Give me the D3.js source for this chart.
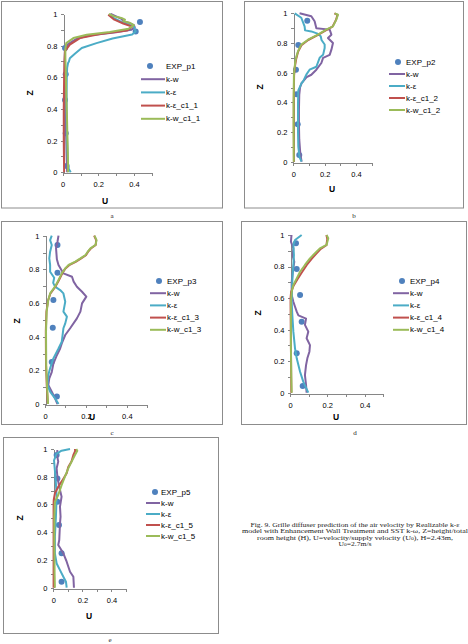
<!DOCTYPE html>
<html lang="en">
<head>
<meta charset="UTF-8">
<title>Fig. 9 - Grille diffuser velocity profiles</title>
<script src="https://cdn.jsdelivr.net/npm/d3@7"></script>
<style>
  html, body { margin: 0; padding: 0; background: #fff; }
  svg { display: block; }
  .axis path, .axis line { stroke: #868686; shape-rendering: crispEdges; }
  .axis text { font-family: "Liberation Sans", Arial, sans-serif; font-size: 7.5px; fill: #000; }
  .axis-title { font-family: "Liberation Sans", Arial, sans-serif; font-size: 8.5px; font-weight: bold; fill: #000; }
  .legend-text { font-family: "Liberation Sans", Arial, sans-serif; font-size: 8px; fill: #000; }
  .serif { font-family: "Liberation Serif", "Times New Roman", serif; font-weight: normal; fill: #222; }
</style>
</head>
<body>
<svg id="fig" width="468" height="644"></svg>
<script>
// ---- data: [U, Z] pairs ----
// shared axes
const uTicks = [0, 0.1, 0.2, 0.3, 0.4, 0.5];
const zTicks = [0, 0.1, 0.2, 0.3, 0.4, 0.5, 0.6, 0.7, 0.8, 0.9, 1];

// panel a (p1)
const p1Exp = [[0.434,0.95],[0.41,0.89],[0.013,0.785],[0.017,0.62],[0.013,0.457],[0.017,0.246],[0.022,0.04]];
const p1Kw = [[0.025,0],[0.022,0.1],[0.02,0.2],[0.018,0.3],[0.016,0.4],[0.014,0.5],[0.012,0.6],[0.011,0.7],[0.012,0.77],[0.03,0.81],[0.08,0.845],[0.17,0.868],[0.3,0.885],[0.385,0.9],[0.405,0.915],[0.4,0.93],[0.37,0.945],[0.34,0.955],[0.33,0.97],[0.3,0.985],[0.27,1]];
const p1Ke = [[0.045,0],[0.035,0.02],[0.03,0.04],[0.028,0.1],[0.025,0.2],[0.023,0.3],[0.022,0.4],[0.022,0.5],[0.023,0.6],[0.025,0.66],[0.03,0.69],[0.035,0.7],[0.04,0.72],[0.07,0.75],[0.107,0.785],[0.19,0.816],[0.28,0.845],[0.39,0.87],[0.41,0.89],[0.4,0.92],[0.33,0.95],[0.285,0.975],[0.265,1]];
const p1KeC1 = [[0.008,0],[0.007,0.1],[0.006,0.2],[0.006,0.3],[0.006,0.4],[0.007,0.5],[0.008,0.6],[0.01,0.7],[0.013,0.765],[0.04,0.806],[0.097,0.848],[0.21,0.873],[0.36,0.895],[0.39,0.92],[0.34,0.94],[0.29,0.964],[0.256,0.996]];
const p1KwC1 = [[0.03,0],[0.03,0.05],[0.028,0.15],[0.026,0.25],[0.024,0.35],[0.021,0.45],[0.019,0.55],[0.017,0.65],[0.015,0.72],[0.015,0.78],[0.02,0.816],[0.06,0.848],[0.135,0.869],[0.265,0.886],[0.37,0.907],[0.4,0.93],[0.375,0.945],[0.34,0.955],[0.35,0.965],[0.33,0.975],[0.29,0.985],[0.26,1]];

// panel b (p2)
const p2Exp = [[0.089,0.95],[0.032,0.787],[0.017,0.62],[0.021,0.454],[0.028,0.252],[0.038,0.045]];
const p2Kw = [[0.053,0],[0.045,0.05],[0.038,0.15],[0.036,0.25],[0.036,0.35],[0.038,0.45],[0.043,0.5],[0.053,0.53],[0.085,0.57],[0.115,0.586],[0.147,0.62],[0.179,0.665],[0.19,0.7],[0.232,0.72],[0.243,0.755],[0.253,0.8],[0.221,0.834],[0.243,0.856],[0.232,0.89],[0.147,0.9],[0.136,0.946],[0.115,0.98],[0.04,1]];
const p2Ke = [[0.053,0],[0.04,0.03],[0.032,0.1],[0.03,0.2],[0.03,0.3],[0.03,0.4],[0.032,0.48],[0.053,0.53],[0.062,0.54],[0.083,0.587],[0.104,0.62],[0.147,0.64],[0.168,0.7],[0.19,0.72],[0.2,0.766],[0.2,0.79],[0.18,0.82],[0.175,0.845],[0.15,0.865],[0.115,0.878],[0.075,0.885],[0.072,0.912],[0.051,0.97],[0.009,1]];
const p2KeC1 = [[0.004,0],[0.003,0.2],[0.003,0.4],[0.005,0.58],[0.01,0.64],[0.018,0.69],[0.03,0.74],[0.052,0.785],[0.095,0.82],[0.155,0.853],[0.21,0.887],[0.25,0.91],[0.272,0.955],[0.282,0.99],[0.262,1]];
const p2KwC1 = [[0.003,0],[0.002,0.2],[0.002,0.4],[0.004,0.586],[0.008,0.63],[0.013,0.676],[0.02,0.71],[0.03,0.744],[0.051,0.789],[0.094,0.822],[0.157,0.856],[0.21,0.89],[0.253,0.912],[0.274,0.957],[0.285,0.99],[0.264,1]];

// panel c (p3)
const p3Exp = [[0.061,0.945],[0.061,0.78],[0.041,0.618],[0.038,0.453],[0.033,0.25],[0.058,0.044]];
const p3Kw = [[0.061,0],[0.049,0.034],[0.033,0.073],[0.016,0.113],[0.021,0.152],[0.033,0.19],[0.041,0.24],[0.058,0.29],[0.074,0.33],[0.082,0.36],[0.099,0.41],[0.123,0.45],[0.156,0.509],[0.173,0.549],[0.181,0.598],[0.202,0.638],[0.181,0.667],[0.156,0.697],[0.14,0.727],[0.132,0.756],[0.09,0.776],[0.066,0.826],[0.058,0.86],[0.054,0.925],[0.061,0.964],[0.066,1]];
const p3Ke = [[0.066,0],[0.049,0.034],[0.025,0.073],[0.012,0.113],[0.016,0.172],[0.025,0.212],[0.041,0.271],[0.066,0.33],[0.082,0.37],[0.09,0.45],[0.099,0.479],[0.107,0.519],[0.09,0.549],[0.099,0.608],[0.09,0.657],[0.074,0.677],[0.049,0.697],[0.04,0.72],[0.045,0.75],[0.025,0.786],[0.025,0.826],[0.021,0.865],[0.025,0.905],[0.033,0.945],[0.025,0.974],[0.033,1]];
const p3KeC1 = [[0.014,0],[0.009,0.1],[0.005,0.23],[0.004,0.43],[0.007,0.549],[0.015,0.615],[0.026,0.655],[0.05,0.695],[0.068,0.735],[0.084,0.775],[0.1,0.805],[0.118,0.825],[0.15,0.845],[0.175,0.864],[0.2,0.884],[0.21,0.904],[0.224,0.924],[0.248,0.945],[0.25,0.974],[0.24,1]];
const p3KwC1 = [[0.015,0],[0.01,0.1],[0.006,0.23],[0.005,0.43],[0.008,0.549],[0.016,0.618],[0.025,0.657],[0.049,0.697],[0.066,0.737],[0.082,0.776],[0.099,0.806],[0.115,0.826],[0.148,0.846],[0.173,0.865],[0.198,0.885],[0.209,0.905],[0.222,0.925],[0.247,0.945],[0.252,0.974],[0.242,1]];

// panel d (p4)
const p4Exp = [[0.032,0.947],[0.036,0.784],[0.054,0.619],[0.0625,0.45],[0.036,0.25],[0.068,0.042]];
const p4Kw = [[0.089,0],[0.086,0.049],[0.08,0.112],[0.086,0.175],[0.093,0.218],[0.104,0.26],[0.107,0.302],[0.089,0.345],[0.098,0.387],[0.08,0.43],[0.086,0.47],[0.045,0.49],[0.036,0.514],[0.027,0.545],[0.018,0.577],[0.009,0.62],[0.009,0.7],[0.014,0.76],[0.023,0.83],[0.014,0.87],[0.018,0.915],[0.005,0.958],[0.008,1]];
const p4Ke = [[0.098,0],[0.071,0.07],[0.054,0.133],[0.036,0.218],[0.027,0.28],[0.018,0.387],[0.0125,0.49],[0.009,0.577],[0.011,0.662],[0.014,0.746],[0.018,0.81],[0.021,0.873],[0.018,0.937],[0.027,0.968],[0.0625,1]];
const p4KeC1 = [[0.007,0],[0.005,0.3],[0.003,0.6],[0.006,0.64],[0.02,0.68],[0.04,0.72],[0.065,0.765],[0.09,0.81],[0.117,0.85],[0.14,0.88],[0.165,0.912],[0.195,0.935],[0.2,0.975],[0.195,1]];
const p4KwC1 = [[0.009,0],[0.007,0.1],[0.005,0.28],[0.005,0.577],[0.009,0.64],[0.018,0.683],[0.036,0.725],[0.054,0.767],[0.08,0.81],[0.107,0.852],[0.134,0.884],[0.16,0.915],[0.196,0.937],[0.205,0.979],[0.196,1]];

// panel e (p5)
const p5Exp = [[0.023,0.957],[0.028,0.788],[0.028,0.62],[0.039,0.452],[0.057,0.248],[0.057,0.043]];
const p5Kw = [[0.142,0],[0.138,0.079],[0.115,0.115],[0.092,0.1875],[0.069,0.248],[0.034,0.308],[0.041,0.344],[0.046,0.464],[0.05,0.512],[0.046,0.584],[0.057,0.656],[0.041,0.728],[0.028,0.8],[0.023,0.861],[0.034,0.909],[0.025,0.957],[0.028,0.993]];
const p5Ke = [[0.092,0],[0.087,0.043],[0.069,0.079],[0.046,0.127],[0.023,0.175],[0.011,0.248],[0.011,0.368],[0.018,0.512],[0.023,0.656],[0.018,0.75],[0.011,0.846],[0.005,0.918],[0.023,0.966],[0.057,0.988],[0.115,1]];
const p5KeC1 = [[0.002,0],[0.002,0.3],[0.002,0.6],[0.003,0.632],[0.011,0.68],[0.034,0.728],[0.06,0.77],[0.092,0.825],[0.103,0.87],[0.125,0.91],[0.138,0.957],[0.15,0.985],[0.149,1]];
const p5KwC1 = [[0.011,0],[0.009,0.1],[0.007,0.3],[0.007,0.512],[0.011,0.62],[0.034,0.668],[0.057,0.74],[0.08,0.8],[0.103,0.861],[0.126,0.909],[0.149,0.957],[0.165,0.988],[0.158,1]];

const panelData = [
  [p1Exp, p1Kw, p1Ke, p1KeC1, p1KwC1],
  [p2Exp, p2Kw, p2Ke, p2KeC1, p2KwC1],
  [p3Exp, p3Kw, p3Ke, p3KeC1, p3KwC1],
  [p4Exp, p4Kw, p4Ke, p4KeC1, p4KwC1],
  [p5Exp, p5Kw, p5Ke, p5KeC1, p5KwC1]
];
const panelLetters = ['a', 'b', 'c', 'd', 'e'];
const seriesColors = ['#4F81BD', '#8064A2', '#4BACC6', '#C0504D', '#9BBB59'];

const captionLines = [
  ['Fig. 9. Grille diffuser prediction of the air velocity by Realizable k-ε'],
  ['model with Enhancement Wall Treatment and SST k-ω, Z=height/total'],
  ['room height (H), U=velocity/supply velocity (U', '0', '), H=2.43m,'],
  ['U', '0', '=2.7m/s']
];

// ---- layout (pixel geometry of each panel box) ----
const layout = [
  { frame: [1, 0.5, 222, 207], x0: 62.7, x1: 151.7, yTop: 14, yBot: 172.3, zLab: [30, 93], uLab: [105, 201],
    leg: { mx: 150, tx: 166, y0: 66, dy: 13.2 }, letter: [112, 216] },
  { frame: [244, 0.5, 463, 207], x0: 293.3, x1: 371.7, yTop: 13.3, yBot: 161.7, zLab: [260, 87], uLab: [332, 189],
    leg: { mx: 398, tx: 406, y0: 62, dy: 12 }, letter: [354, 216] },
  { frame: [1, 221, 222, 424], x0: 45, x1: 147.3, yTop: 235.7, yBot: 404, zLab: [17, 321], uLab: [92, 417],
    leg: { mx: 159, tx: 167, y0: 281, dy: 12.2 }, letter: [112, 433] },
  { frame: [241, 221, 466, 424], x0: 290, x1: 383.3, yTop: 235, yBot: 392.7, zLab: [258, 313], uLab: [336, 417],
    leg: { mx: 402, tx: 410, y0: 281, dy: 12.2 }, letter: [355, 433] },
  { frame: [3, 437, 218, 633], x0: 53.3, x1: 126, yTop: 449, yBot: 587.7, zLab: [20, 518], uLab: [89, 616],
    leg: { mx: 155, tx: 161, y0: 492, dy: 11 }, letter: [110, 640] }
];

const svg = d3.select('#fig');
svg.append('rect').attr('width', 468).attr('height', 644).attr('fill', '#fff');

const fmt = d => (Math.round(d * 10) % 2 === 0 ? d3.format('~g')(d) : '');

layout.forEach((L, i) => {
  const n = i + 1;
  const data = panelData[i];
  const names = [`EXP_p${n}`, 'k-w', 'k-ε', `k-ε_c1_${n}`, `k-w_c1_${n}`];
  const g = svg.append('g');

  // chart frame
  const [fx0, fy0, fx1, fy1] = L.frame;
  g.append('rect')
    .attr('x', Math.round(fx0) + 0.5).attr('y', Math.round(fy0) + 0.5)
    .attr('width', fx1 - fx0).attr('height', fy1 - fy0)
    .attr('fill', 'none').attr('stroke', '#8c8c8c').attr('stroke-width', 1);

  const x = d3.scaleLinear().domain([0, 0.5]).range([L.x0, L.x1]);
  const y = d3.scaleLinear().domain([0, 1]).range([L.yBot, L.yTop]);

  // axes
  g.append('g').attr('class', 'axis')
    .attr('transform', `translate(${Math.round(L.x0) + 0.5},0)`)
    .call(d3.axisLeft(y).tickValues(zTicks).tickFormat(fmt).tickSize(3).tickSizeOuter(0).tickPadding(3));
  g.append('g').attr('class', 'axis')
    .attr('transform', `translate(0,${Math.round(L.yBot) + 0.5})`)
    .call(d3.axisBottom(x).tickValues(uTicks).tickFormat(fmt).tickSize(3).tickSizeOuter(0).tickPadding(6));

  // axis titles
  g.append('text').attr('class', 'axis-title')
    .attr('transform', `translate(${L.zLab[0]},${L.zLab[1]}) rotate(-90)`)
    .attr('text-anchor', 'middle').attr('dominant-baseline', 'central').text('Z');
  g.append('text').attr('class', 'axis-title')
    .attr('x', L.uLab[0]).attr('y', L.uLab[1])
    .attr('text-anchor', 'middle').attr('dominant-baseline', 'central').text('U');

  // series: markers first, then lines in series order (later ones on top)
  g.append('g').selectAll('circle')
    .data(data[0]).enter().append('circle')
    .attr('cx', d => x(d[0])).attr('cy', d => y(d[1])).attr('r', 3)
    .attr('fill', seriesColors[0]);

  const line = d3.line().x(d => x(d[0])).y(d => y(d[1]));
  for (let s = 1; s < 5; s++) {
    g.append('path').datum(data[s])
      .attr('d', line)
      .attr('fill', 'none')
      .attr('stroke', seriesColors[s])
      .attr('stroke-width', 2)
      .attr('stroke-linejoin', 'round');
  }

  // legend
  names.forEach((name, s) => {
    const ly = L.leg.y0 + s * L.leg.dy;
    if (s === 0) {
      g.append('circle').attr('cx', L.leg.mx).attr('cy', ly).attr('r', 3).attr('fill', seriesColors[0]);
    } else {
      g.append('line')
        .attr('x1', L.leg.mx - 9).attr('x2', L.leg.tx - 1)
        .attr('y1', ly).attr('y2', ly)
        .attr('stroke', seriesColors[s]).attr('stroke-width', 2);
    }
    g.append('text').attr('class', 'legend-text')
      .attr('x', L.leg.tx).attr('y', ly)
      .attr('dominant-baseline', 'central').text(name);
  });

  // panel letter
  svg.append('text').attr('class', 'serif')
    .attr('x', L.letter[0]).attr('y', L.letter[1])
    .attr('text-anchor', 'middle').attr('dominant-baseline', 'central')
    .style('font-size', '7px').text(panelLetters[i]);
});

// caption
const capCx = 355;
const capY = [524, 530.3, 536.5, 542.6];
const capW = [209, 226, 196, 33];
captionLines.forEach((parts, k) => {
  const t = svg.append('text').attr('class', 'serif')
    .attr('x', capCx).attr('y', capY[k])
    .attr('text-anchor', 'middle').attr('dominant-baseline', 'central')
    .attr('textLength', capW[k]).attr('lengthAdjust', 'spacingAndGlyphs')
    .style('font-size', '6.8px');
  parts.forEach((p, j) => {
    const isSub = p === '0';
    t.append('tspan')
      .attr('baseline-shift', isSub ? '-25%' : null)
      .style('font-size', isSub ? '4.8px' : null)
      .text(p);
  });
});
</script>
</body>
</html>
